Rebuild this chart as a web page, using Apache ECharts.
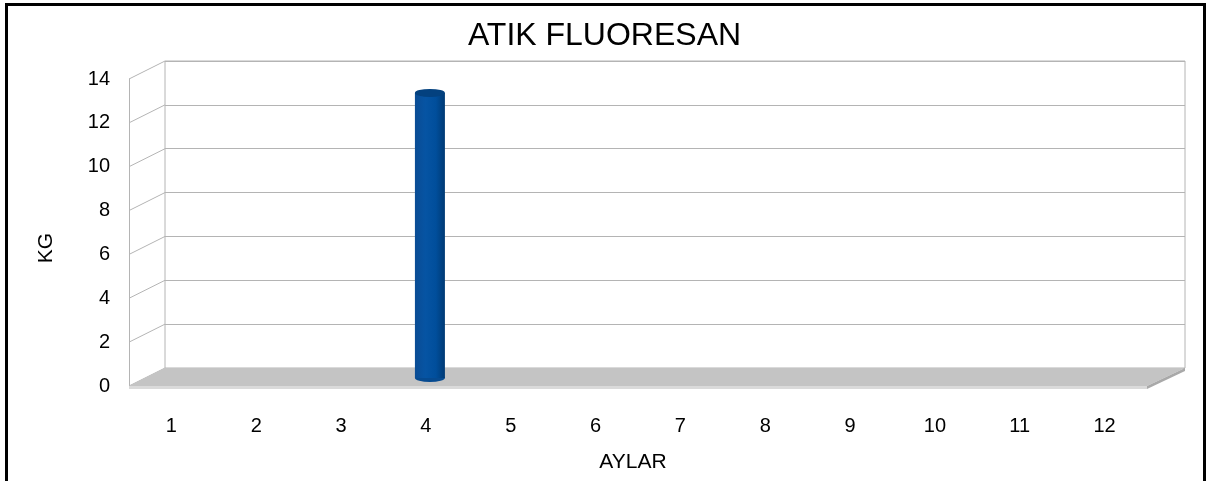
<!DOCTYPE html>
<html>
<head>
<meta charset="utf-8">
<script src="https://cdn.jsdelivr.net/npm/echarts@6/dist/echarts.min.js"></script>
<style>
  html, body { margin: 0; padding: 0; background: #fff; }
  #chart { width: 1209px; height: 481px; }
</style>
</head>
<body>
<div id="chart"></div>
<script>
const months = ["1", "2", "3", "4", "5", "6", "7", "8", "9", "10", "11", "12"];
const kgValues = [0, 0, 0, 13, 0, 0, 0, 0, 0, 0, 0, 0];
const yTicks = [0, 2, 4, 6, 8, 10, 12, 14];

// pseudo-3d geometry: front plane, back wall and bar plane
const front = { left: 129, right: 62, top: 79, bottom: 95 };
const back = { left: 165, right: 24, top: 61, bottom: 113 };
const mid = { left: 133, right: 58, top: 71, bottom: 103 };
const W = 1209, H = 481;
const fontFam = "Liberation Sans, Arial, sans-serif";
const gridColor = "#b4b4b4";

const chart = echarts.init(document.getElementById("chart"));

const hiddenCat = (gridIndex) => ({
  type: "category",
  gridIndex: gridIndex,
  data: months,
  axisLine: { show: false },
  axisTick: { show: false },
  axisLabel: { show: false },
});
const hiddenVal = (gridIndex) => ({
  type: "value",
  gridIndex: gridIndex,
  min: 0,
  max: 14,
  interval: 2,
  axisLine: { show: false },
  axisTick: { show: false },
  axisLabel: { show: false },
  splitLine: { show: false },
});

const frontY = (v) => H - front.bottom - (v / 14) * (H - front.bottom - front.top);
const backY = (v) => H - back.bottom - (v / 14) * (H - back.bottom - back.top);

// side wall diagonals (decoration)
const sideLines = yTicks.map((v) => ({
  type: "line",
  z: 1,
  shape: { x1: front.left, y1: frontY(v), x2: back.left, y2: backY(v) },
  style: { stroke: gridColor, lineWidth: 1 },
}));

const floorFrontR = W - front.right;
const floorBackR = W - back.right;
const y0f = frontY(0), y0b = backY(0);
const barVals = kgValues.map((v) => (v > 0 ? v : null));

chart.setOption({
  animation: false,
  title: {
    text: "ATIK FLUORESAN",
    left: "center",
    top: 15,
    textStyle: { fontFamily: fontFam, fontSize: 32, fontWeight: "normal", color: "#000" },
  },
  grid: [
    { left: back.left, right: back.right, top: back.top, bottom: back.bottom, show: true, borderColor: gridColor, borderWidth: 1, backgroundColor: "#fff" },
    { left: front.left, right: front.right, top: front.top, bottom: front.bottom },
    { left: mid.left, right: mid.right, top: mid.top, bottom: mid.bottom },
  ],
  xAxis: [
    hiddenCat(0),
    {
      type: "category",
      gridIndex: 1,
      data: months,
      axisLine: { show: false },
      axisTick: { show: false },
      axisLabel: { margin: 30, fontFamily: fontFam, fontSize: 20, color: "#000" },
    },
    hiddenCat(2),
  ],
  yAxis: [
    Object.assign(hiddenVal(0), { splitLine: { show: true, lineStyle: { color: gridColor, width: 1 } } }),
    Object.assign(hiddenVal(1), {
      axisLine: { show: true, lineStyle: { color: gridColor, width: 1 } },
      axisLabel: { show: true, margin: 19, fontFamily: fontFam, fontSize: 20, color: "#000" },
    }),
    hiddenVal(2),
  ],
  graphic: [
    ...sideLines,
    // floor
    { type: "polygon", z: 1, shape: { points: [[front.left, y0f], [back.left, y0b], [floorBackR, y0b], [floorFrontR, y0f]] }, style: { fill: "#c4c4c4" } },
    { type: "polygon", z: 1, shape: { points: [[front.left, y0f], [floorFrontR, y0f], [floorFrontR, y0f + 3], [front.left, y0f + 3]] }, style: { fill: "#dadada" } },
    { type: "polygon", z: 1, shape: { points: [[floorFrontR, y0f], [floorBackR, y0b], [floorBackR, y0b + 3], [floorFrontR, y0f + 3]] }, style: { fill: "#a9a9a9" } },
    // axis names
    { type: "text", z: 5, x: 46, y: 248, rotation: Math.PI / 2, style: { text: "KG", fontFamily: fontFam, fontSize: 21, fill: "#000", align: "center", verticalAlign: "middle" } },
    { type: "text", z: 5, x: 633, y: 462, style: { text: "AYLAR", fontFamily: fontFam, fontSize: 21, fill: "#000", align: "center", verticalAlign: "middle" } },
    // outer frame
    { type: "rect", z: 10, shape: { x: 6.5, y: 4.5, width: 1198, height: 500 }, style: { fill: "none", stroke: "#000", lineWidth: 3 } },
  ],
  series: [
    {
      type: "bar",
      xAxisIndex: 2,
      yAxisIndex: 2,
      z: 3,
      data: barVals,
      barWidth: 30,
      itemStyle: {
        color: new echarts.graphic.LinearGradient(0, 0, 1, 0, [
          { offset: 0, color: "#0a4c94" },
          { offset: 0.35, color: "#0654a3" },
          { offset: 0.7, color: "#004e9b" },
          { offset: 1, color: "#003a74" },
        ]),
      },
    },
    {
      type: "pictorialBar",
      xAxisIndex: 2,
      yAxisIndex: 2,
      z: 4,
      symbol: "circle",
      symbolSize: [30, 8],
      symbolPosition: "end",
      symbolOffset: [0, "-50%"],
      data: barVals,
      itemStyle: { color: "#03417f" },
    },
    {
      type: "pictorialBar",
      xAxisIndex: 2,
      yAxisIndex: 2,
      z: 2,
      symbol: "circle",
      symbolSize: [30, 8],
      symbolPosition: "start",
      symbolOffset: [0, "50%"],
      data: barVals,
      itemStyle: { color: "#064a90" },
    },
  ],
});
</script>
</body>
</html>
